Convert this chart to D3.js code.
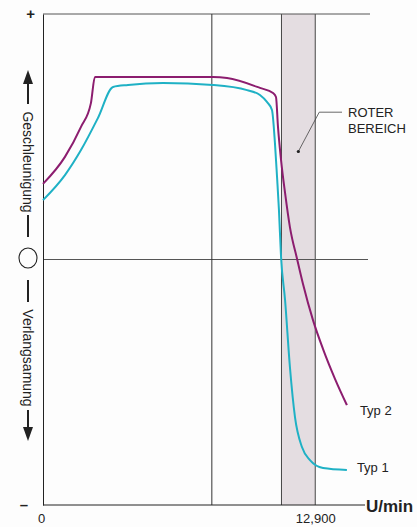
<!DOCTYPE html>
<html>
<head>
<meta charset="utf-8">
<script src="https://cdn.jsdelivr.net/npm/d3@7"></script>
<style>
  body { margin: 0; background: #fdfdfd; }
  svg { display: block; font-family: "Liberation Sans", Arial, sans-serif; }
</style>
</head>
<body>
<div id="chart"></div>
<script>
// Drehzahl (U/min) und Beschleunigung (+1 .. -1)
var rpm1 = [0, 1040, 1800, 2600, 3320, 4030, 5690, 8050, 9670, 10280, 10610, 10850, 10990, 11090, 11180, 11280, 11470, 11700, 11940, 12270, 12650, 13270, 14400];
var typ1 = [0.242, 0.344, 0.446, 0.576, 0.703, 0.711, 0.719, 0.711, 0.690, 0.670, 0.642, 0.609, 0.475, 0.336, 0.202, 0.010, -0.165, -0.438, -0.642, -0.764, -0.817, -0.849, -0.857];
var rpm2 = [0, 1040, 1800, 2270, 2460, 8050, 8720, 10280, 10900, 11040, 11135, 11280, 11470, 11700, 12040, 12320, 12790, 13270, 13840, 14400];
var typ2 = [0.308, 0.418, 0.540, 0.637, 0.743, 0.743, 0.739, 0.699, 0.678, 0.662, 0.540, 0.405, 0.271, 0.132, 0.002, -0.100, -0.246, -0.365, -0.487, -0.593];
var roterBereich = [11300, 12900];
var gridRpm = [8000];
var xTicks = [0, 12900];
var yTicks = [-1, 1];

var width = 417, height = 527;
var x = d3.scaleLinear().domain([0, 15400]).range([43, 368]);
var y = d3.scaleLinear().domain([-1, 1]).range([505, 14]);

var svg = d3.select("#chart").append("svg").attr("width", width).attr("height", height);
var ink = "#222";

// roter Bereich
svg.append("rect")
    .attr("x", x(roterBereich[0])).attr("y", y(1))
    .attr("width", x(roterBereich[1]) - x(roterBereich[0]))
    .attr("height", y(-1) - y(1))
    .style("fill", "#e4dde1");
roterBereich.forEach(function (r) {
    svg.append("line").attr("x1", x(r)).attr("x2", x(r)).attr("y1", y(1)).attr("y2", y(-1))
        .style("stroke", "#333").style("stroke-width", 0.9);
});

// Rahmen / Gitter
svg.append("line").attr("x1", x(0)).attr("x2", 370).attr("y1", y(1)).attr("y2", y(1)).style("stroke", "#555").style("stroke-width", 1);
svg.append("line").attr("x1", x(0)).attr("x2", 368).attr("y1", y(0)).attr("y2", y(0)).style("stroke", "#555").style("stroke-width", 1);
gridRpm.forEach(function (r) {
    svg.append("line").attr("x1", x(r)).attr("x2", x(r)).attr("y1", y(1)).attr("y2", y(-1)).style("stroke", "#333").style("stroke-width", 1);
});

// Achsen
var xAxis = svg.append("g").attr("transform", "translate(0," + y(-1) + ")")
    .call(d3.axisBottom(x).tickValues(xTicks).tickSize(0).tickPadding(9)
        .tickFormat(function (d) { return d === 0 ? "0" : d3.format(",")(d); }));
xAxis.select(".domain").attr("d", "M" + x(0) + ",0H365").style("stroke", ink);
xAxis.selectAll("text").style("font-size", "13px").style("fill", ink).style("font-family", "Liberation Sans, Arial, sans-serif");
xAxis.selectAll("text").filter(function (d) { return d === 0; }).attr("x", -2);

var yAxis = svg.append("g").attr("transform", "translate(" + x(0) + ",0)")
    .call(d3.axisLeft(y).tickValues(yTicks).tickSize(0).tickPadding(8)
        .tickFormat(function (d) { return d > 0 ? "+" : "\u2013"; }));
yAxis.select(".domain").style("stroke", ink);
yAxis.selectAll("text").style("font-size", "15px").style("font-weight", "bold").style("fill", ink)
    .style("font-family", "Liberation Sans, Arial, sans-serif");
yAxis.selectAll("text").filter(function (d) { return d < 0; }).attr("x", -15);

svg.append("text").attr("x", 366).attr("y", 512).text("U/min")
    .style("font-size", "17px").style("font-weight", "bold").style("fill", ink);

// Kurven
var line = d3.line().curve(d3.curveMonotoneX);
svg.append("path")
    .attr("d", line(rpm2.map(function (r, i) { return [x(r), y(typ2[i])]; })))
    .style("fill", "none").style("stroke", "#8c1d6f").style("stroke-width", 2);
svg.append("path")
    .attr("d", line(rpm1.map(function (r, i) { return [x(r), y(typ1[i])]; })))
    .style("fill", "none").style("stroke", "#1fb1c5").style("stroke-width", 2);

svg.append("text").attr("x", x(14400) + 13).attr("y", y(typ2[typ2.length - 1]) + 10).text("Typ 2")
    .style("font-size", "13px").style("fill", ink);
svg.append("text").attr("x", x(14400) + 10).attr("y", y(typ1[typ1.length - 1]) + 2).text("Typ 1")
    .style("font-size", "13px").style("fill", ink);

// Beschriftung roter Bereich
var dotX = x((roterBereich[0] + roterBereich[1]) / 2), dotY = y(0.44);
svg.append("polyline")
    .attr("points", [[dotX, dotY], [x(roterBereich[1]) + 4, y(0.6)], [342, y(0.6)]].join(" "))
    .style("fill", "none").style("stroke", "#444").style("stroke-width", 0.8);
svg.append("circle").attr("cx", dotX).attr("cy", dotY).attr("r", 1.6).style("fill", ink);
svg.append("text").attr("x", 348).attr("y", 117).text("ROTER").style("font-size", "13px").style("fill", ink);
svg.append("text").attr("x", 348).attr("y", 133).text("BEREICH").style("font-size", "13px").style("fill", ink);

// linke Beschriftung
var lx = 28;
var lab = svg.append("g");
lab.append("line").attr("x1", lx).attr("x2", lx).attr("y1", 82).attr("y2", 104).style("stroke", ink).style("stroke-width", 2);
lab.append("path").attr("d", "M" + lx + ",70L" + (lx - 5) + ",84L" + (lx + 5) + ",84Z").style("fill", ink);
lab.append("text").attr("transform", "translate(" + lx + ",162) rotate(90)")
    .attr("text-anchor", "middle").attr("dominant-baseline", "central")
    .text("Geschleunigung").style("font-size", "14px").style("fill", ink);
lab.append("line").attr("x1", lx).attr("x2", lx).attr("y1", 215).attr("y2", 237).style("stroke", ink).style("stroke-width", 2);
lab.append("ellipse").attr("cx", lx).attr("cy", 258).attr("rx", 9).attr("ry", 10)
    .style("fill", "none").style("stroke", ink).style("stroke-width", 1.1);
lab.append("line").attr("x1", lx).attr("x2", lx).attr("y1", 280).attr("y2", 302).style("stroke", ink).style("stroke-width", 2);
lab.append("text").attr("transform", "translate(" + lx + ",358) rotate(90)")
    .attr("text-anchor", "middle").attr("dominant-baseline", "central")
    .text("Verlangsamung").style("font-size", "14px").style("fill", ink);
lab.append("line").attr("x1", lx).attr("x2", lx).attr("y1", 410).attr("y2", 430).style("stroke", ink).style("stroke-width", 2);
lab.append("path").attr("d", "M" + lx + ",441L" + (lx - 5) + ",427L" + (lx + 5) + ",427Z").style("fill", ink);
</script>
</body>
</html>
